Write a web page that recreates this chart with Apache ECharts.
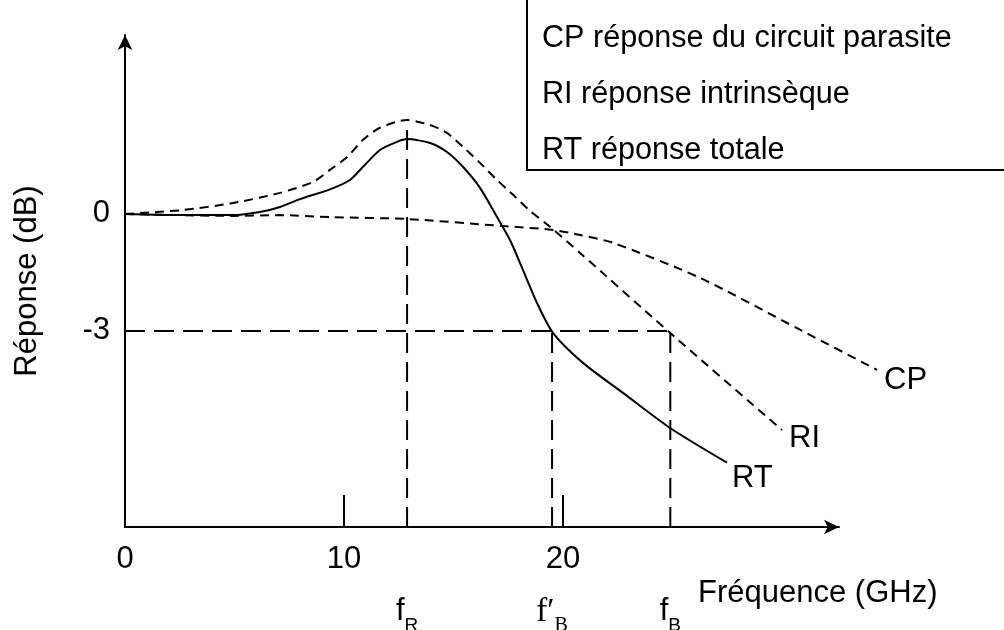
<!DOCTYPE html>
<html>
<head>
<meta charset="utf-8">
<title>Réponse en fréquence</title>
<script src="https://cdn.jsdelivr.net/npm/echarts@6/dist/echarts.min.js"></script>
<style>
  html, body { margin: 0; padding: 0; background: #fff; }
  #chart { width: 1004px; height: 630px; }
</style>
</head>
<body>
<div id="chart"></div>
<script>
  // fréquence (GHz) / réponse (dB)
  var cpFreq = [0, 4.93, 7.08, 9.36, 12.88, 17.26, 19.54, 20.78, 22.28, 26.26, 30.82, 34.34];
  var cpDb   = [0, -0.05, -0.03, -0.08, -0.13, -0.31, -0.41, -0.54, -0.74, -1.64, -2.97, -4.0];

  var riFreq = [0, 2.65, 4.93, 7.08, 8.58, 9.36, 10.14, 10.87, 11.64, 12.88, 13.93, 14.7, 15.43, 16.21, 16.99, 17.72, 18.49, 19.41, 20.78, 24.89, 30.0];
  var riDb   = [0, 0.1, 0.28, 0.54, 0.82, 1.13, 1.46, 1.90, 2.21, 2.41, 2.28, 2.08, 1.72, 1.31, 0.87, 0.49, 0.08, -0.33, -1.0, -3.05, -5.54];

  var rtFreq = [0, 2.65, 4.93, 6.16, 7.08, 7.99, 9.36, 10.27, 10.87, 11.64, 12.42, 12.88, 13.93, 14.7, 15.43, 16.21, 16.99, 17.58, 18.04, 18.81, 19.54, 20.91, 22.74, 24.89, 27.49];
  var rtDb   = [0, -0.03, -0.03, 0.05, 0.18, 0.38, 0.63, 0.87, 1.21, 1.64, 1.85, 1.92, 1.82, 1.59, 1.21, 0.67, -0.08, -0.67, -1.26, -2.28, -3.05, -3.82, -4.59, -5.49, -6.38];

  // fréquences repères : fR, f'B, fB
  var markFreq = [12.88, 19.5, 24.9];
  var markMain = ['f', 'f′', 'f'];
  var markSub  = ['R', 'B', 'B'];
  var markSerif = [false, true, false];
  var peakDb = 2.41;
  var cutDb = -3;

  var xTicks = [0, 10, 20];
  var xMinorTicks = [10, 20];
  var yTicks = [0, -3];
  var xMin = 0, xMax = 32.6;     // axe dessiné (jusqu'à la flèche)
  var xMaxWide = 36.53;          // étendue des courbes (elles dépassent la flèche)
  var yMin = -8.03, yMax = 4.59;

  var legendLines = [
    'CP réponse du circuit parasite',
    'RI réponse intrinsèque',
    'RT réponse totale'
  ];

  function zip(xs, ys) {
    return xs.map(function (x, i) { return [x, ys[i]]; });
  }

  var font = "'Liberation Sans', Arial, sans-serif";
  var serif = "'Liberation Serif', 'Times New Roman', serif";
  var fs = 31;

  var chart = echarts.init(document.getElementById('chart'));

  var refLine = {
    type: 'line',
    xAxisIndex: 2,
    yAxisIndex: 1,
    symbol: 'none',
    silent: true,
    lineStyle: { color: '#000', width: 2, type: [20, 9] }
  };

  function curve(name, xs, ys, dashed, offset) {
    return {
      name: name,
      type: 'line',
      xAxisIndex: 2,
      yAxisIndex: 1,
      data: zip(xs, ys),
      symbol: 'none',
      smooth: 0.25,
      lineStyle: { color: '#000', width: 2, type: dashed ? [9, 6] : 'solid' },
      endLabel: {
        show: true,
        formatter: '{a}',
        color: '#000',
        fontSize: fs,
        fontFamily: font,
        distance: 5,
        offset: offset
      }
    };
  }

  chart.setOption({
    animation: false,
    backgroundColor: '#fff',
    textStyle: { fontFamily: font, color: '#000' },
    grid: [
      { left: 125, right: 165, top: 35, bottom: 103, outerBoundsMode: 'none' },
      { left: 125, right: 79, top: 35, bottom: 103, outerBoundsMode: 'none' }
    ],
    xAxis: [
      {
        type: 'value',
        gridIndex: 0,
        min: xMin,
        max: xMax,
        name: 'Fréquence (GHz)',
        nameLocation: 'end',
        nameGap: -141,
        nameMoveOverlap: false,
        nameTextStyle: { fontSize: fs, color: '#000', align: 'left', verticalAlign: 'top', lineHeight: 31, padding: [51, 0, 0, 0] },
        axisLine: { onZero: false, lineStyle: { color: '#000', width: 2 }, symbol: ['none', 'arrow'], symbolSize: [11, 15] },
        axisTick: { show: true, inside: true, length: 32, customValues: xMinorTicks, lineStyle: { color: '#000', width: 2 } },
        axisLabel: { customValues: xTicks, fontSize: fs, color: '#000', margin: 17, lineHeight: 31 },
        splitLine: { show: false }
      },
      {
        type: 'value',
        gridIndex: 0,
        min: xMin,
        max: xMax,
        position: 'bottom',
        axisLine: { show: false, onZero: false },
        axisTick: { show: false },
        splitLine: { show: false },
        axisLabel: {
          customValues: markFreq,
          margin: 69,
          formatter: function (v) {
            var i = markFreq.indexOf(v);
            if (i < 0) return '';
            var m = markSerif[i] ? 'ft' : 'fs';
            var s = markSerif[i] ? 'st' : 'ss';
            return '{' + m + '|' + markMain[i] + '}{' + s + '|' + markSub[i] + '}';
          },
          rich: {
            fs: { fontSize: fs, lineHeight: 30, verticalAlign: 'top', fontFamily: font, color: '#000' },
            ft: { fontSize: 33, lineHeight: 30, verticalAlign: 'top', fontFamily: serif, color: '#000' },
            ss: { fontSize: 19, lineHeight: 60, fontFamily: font, color: '#000' },
            st: { fontSize: 20, lineHeight: 60, fontFamily: serif, color: '#000' }
          }
        }
      },
      {
        type: 'value',
        gridIndex: 1,
        min: xMin,
        max: xMaxWide,
        show: false
      }
    ],
    yAxis: [
      {
        type: 'value',
        gridIndex: 0,
        min: yMin,
        max: yMax,
        name: 'Réponse (dB)',
        nameLocation: 'middle',
        nameGap: 82,
        nameMoveOverlap: false,
        nameTextStyle: { fontSize: fs, color: '#000', lineHeight: 31 },
        axisLine: { show: true, onZero: false, lineStyle: { color: '#000', width: 2 }, symbol: ['none', 'arrow'], symbolSize: [11, 15] },
        axisTick: { show: false },
        axisLabel: { customValues: yTicks, fontSize: fs, color: '#000', margin: 15 },
        splitLine: { show: false }
      },
      {
        type: 'value',
        gridIndex: 1,
        min: yMin,
        max: yMax,
        show: false
      }
    ],
    graphic: [
      { type: 'rect', shape: { x: 527, y: -10, width: 500, height: 180 }, style: { fill: '#fff', stroke: '#000', lineWidth: 2 } },
      { type: 'text', x: 542, y: 39, style: { text: legendLines[0], fontSize: 30.6, fontFamily: font, fill: '#000', verticalAlign: 'middle' } },
      { type: 'text', x: 542, y: 95, style: { text: legendLines[1], fontSize: 30.6, fontFamily: font, fill: '#000', verticalAlign: 'middle' } },
      { type: 'text', x: 542, y: 151, style: { text: legendLines[2], fontSize: 30.6, fontFamily: font, fill: '#000', verticalAlign: 'middle' } }
    ],
    series: [
      Object.assign({}, refLine, { data: [[markFreq[0], yMin], [markFreq[0], peakDb]] }),
      Object.assign({}, refLine, { data: [[markFreq[1], yMin], [markFreq[1], cutDb]] }),
      Object.assign({}, refLine, { data: [[markFreq[2], yMin], [markFreq[2], cutDb]] }),
      Object.assign({}, refLine, { data: [[xMin, cutDb], [markFreq[2], cutDb]] }),
      curve('CP', cpFreq, cpDb, true, [2, 11]),
      curve('RI', riFreq, riDb, true, [2, 9]),
      curve('RT', rtFreq, rtDb, false, [0, 16])
    ]
  });
</script>
</body>
</html>
